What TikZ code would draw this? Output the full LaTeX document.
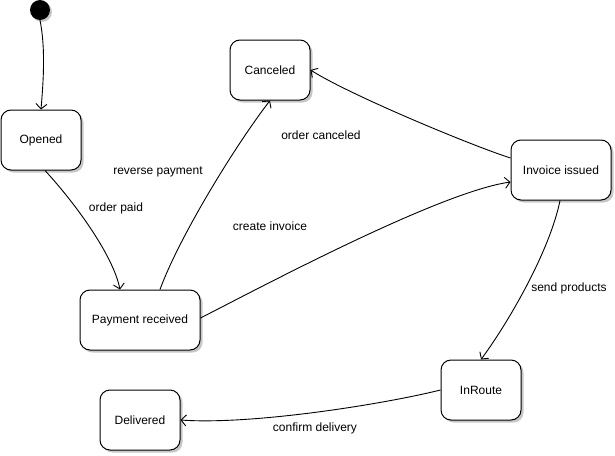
\documentclass[tikz,border=0pt]{standalone}
\usepackage{fontspec}
\setmainfont{Liberation Sans}
\usetikzlibrary{shadows,arrows.meta,calc}
\begin{document}
\begin{tikzpicture}[x=1pt,y=1pt,
  font=\fontsize{12}{14}\selectfont,
  state/.style={draw=black, line width=1pt, fill=white, rounded corners=10pt,
    minimum height=60pt, inner sep=0pt,
    drop shadow={shadow xshift=2.5pt, shadow yshift=-2.5pt, fill=black!22, opacity=1}},
  startdot/.style={circle, fill=black, minimum size=20pt, inner sep=0pt,
    drop shadow={shadow xshift=2pt, shadow yshift=-2pt, fill=black!22, opacity=1}},
  trans/.style={draw=black, line width=0.9pt, -{Straight Barb[length=5pt,width=11pt,line width=0.9pt]}},
  lbl/.style={inner sep=0pt}]
\useasboundingbox (0,0) rectangle (615,-455);

% states
\node[startdot] (init) at (40,-10) {};
\node[state, minimum width=80pt]  (opened)    at (41,-140)  {Opened};
\node[state, minimum width=80pt]  (canceled)  at (270,-70)  {Canceled};
\node[state, minimum width=100pt] (invoice)   at (561,-170) {Invoice issued};
\node[state, minimum width=120pt] (payment)   at (140,-320) {Payment received};
\node[state, minimum width=80pt]  (inroute)   at (481,-390) {InRoute};
\node[state, minimum width=80pt]  (delivered) at (140,-420) {Delivered};

% transitions
\draw[trans] (init.south) .. controls (46,-50) and (43,-85) .. (opened.north);
\draw[trans] ($(opened.south)+(4,0)$) .. controls (75,-203) and (113,-255) .. ($(payment.north)+(-20,0)$);
\draw[trans] ($(payment.north)+(20,0)$) .. controls (178,-240) and (232,-150) .. (canceled.south);
\draw[trans] ($(payment.east)+(0,2)$) .. controls (265,-285) and (440,-192) .. ($(invoice.west)+(0,-12)$);
\draw[trans] ($(invoice.west)+(0,12)$) .. controls (470,-145) and (350,-95) .. (canceled.east);
\draw[trans] ($(invoice.south)+(-1,0)$) .. controls (550,-250) and (510,-320) .. (inroute.north);
\draw[trans] (inroute.west) .. controls (380,-405) and (250,-425) .. (delivered.east);

% transition labels
\node[lbl] (lpaid)     at (116,-208) {order paid};
\node[lbl] (lreverse)  at (158,-172) {reverse payment};
\node[lbl] (linvoice)  at (270,-226) {create invoice};
\node[lbl] (lcancel)   at (321,-135) {order canceled};
\node[lbl] (lsend)     at (569,-288) {send products};
\node[lbl] (lconfirm)  at (315,-428) {confirm delivery};
\end{tikzpicture}
\end{document}
